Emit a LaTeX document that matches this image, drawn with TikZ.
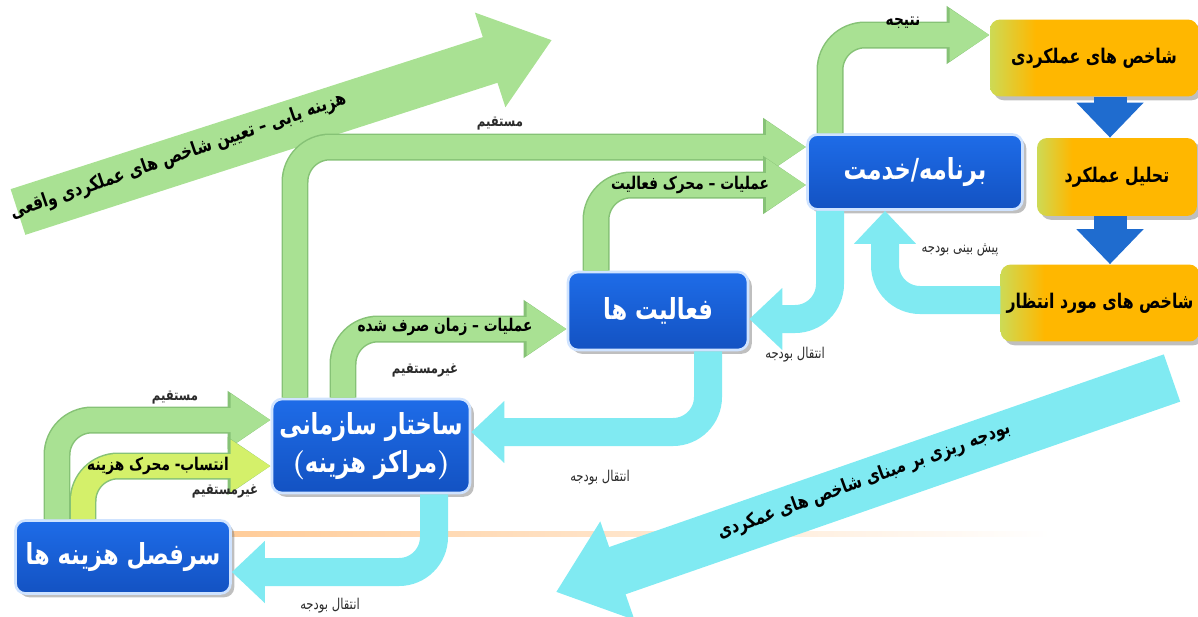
\documentclass[tikz,border=0pt]{standalone}
\usepackage{fontspec}
\usetikzlibrary{arrows.meta,calc,shadows}
\TeXXeTstate=1
\newfontfamily\fafont[Script=Arabic,FakeStretch=0.78]{DejaVu Sans}
\newcommand{\fa}[1]{\beginR #1\endR}

\definecolor{boxblue}{HTML}{1E6CE8}
\definecolor{boxbluedark}{HTML}{1352C2}
\definecolor{boxedge}{HTML}{CFE3FF}
\definecolor{boxgold}{HTML}{FFB700}
\definecolor{boxlime}{HTML}{CDDA55}
\definecolor{bandgreen}{HTML}{A9E193}
\definecolor{bandgreenedge}{HTML}{86C276}
\definecolor{bandlime}{HTML}{D4F06A}
\definecolor{bandcyan}{HTML}{80EAF2}
\definecolor{downblue}{HTML}{1F6CCF}
\definecolor{labelgray}{HTML}{2B2B2B}
\pgfdeclarehorizontalshading{goldshade}{100bp}{color(0bp)=(boxlime); color(25bp)=(boxlime); color(36bp)=(boxgold); color(100bp)=(boxgold)}

\begin{document}
\begin{tikzpicture}[x=0.02cm,y=-0.02cm]

\tikzset{bluebox/.style = {rounded corners=0.2cm, draw=boxedge, line width=1.5pt,
    top color=boxblue, bottom color=boxbluedark, drop shadow,
    text=white, font=\fafont\bfseries\fontsize{16.5}{22}\selectfont, align=center}}
\tikzset{goldbox/.style = {rounded corners=0.2cm, shading=goldshade, drop shadow, text=black,
    font=\fafont\bfseries\fontsize{11.5}{14}\selectfont}}
\tikzset{gband/.style = {draw=bandgreen, line width=0.48cm, rounded corners=0.7cm,
    -{Triangle[width=1.0cm,length=0.8cm]},
    preaction={draw=bandgreenedge, line width=0.54cm, -{Triangle[width=1.1cm,length=0.86cm]}}}}
\tikzset{cband/.style = {draw=bandcyan, line width=0.56cm, rounded corners=0.7cm,
    -{Triangle[width=1.2cm,length=0.66cm]}}}
\tikzset{downarrow/.style = {draw=downblue, line width=0.66cm, -{Triangle[width=1.3cm,length=0.7cm]}}}
\tikzset{bandtxt/.style = {font=\fafont\bfseries\fontsize{10}{12}\selectfont, text=black}}
\tikzset{bigtxt/.style = {font=\fafont\bfseries\fontsize{11}{13}\selectfont, text=black}}
\tikzset{lbl/.style = {font=\fafont\bfseries\fontsize{8.5}{10}\selectfont, text=labelgray}}
\tikzset{lbltwo/.style = {font=\fafont\fontsize{8.5}{10}\selectfont, text=labelgray}}

\useasboundingbox (0,0) rectangle (1198,616);

% big arrows
\coordinate (gt) at (18,212);
\coordinate (gh) at (552,40);
\coordinate (ct) at (1172,378);
\coordinate (ch) at (556,592);
\shade[left color=orange!40, middle color=orange!35, right color=white] (232,531) rectangle (1050,536);
\draw[draw=bandgreen, line width=0.96cm, -{Triangle[width=1.9cm,length=1.3cm]}] (gt) -- (gh);
\draw[draw=bandcyan, line width=1.0cm, -{Triangle[width=2.0cm,length=1.3cm]}] (ct) -- (ch);
\node[bigtxt, rotate=19] (gtext) at ($(gt)!0.30!(gh)+(0,-4)$) {\fa{هزینه یابی – تعیین شاخص های عملکردی واقعی}};
\node[bigtxt, rotate=20] (ctext) at ($(ct)!0.5!(ch)+(0,-4)$) {\fa{بودجه ریزی بر مبنای شاخص های عمکردی}};

% boxes
\node[bluebox, minimum width=4.3cm, minimum height=1.5cm] (prog) at (915,172) {\fa{برنامه/خدمت}};
\node[bluebox, minimum width=3.6cm, minimum height=1.56cm] (act) at (658,311) {\fa{فعالیت ها}};
\node[bluebox, minimum width=3.96cm, minimum height=1.88cm] (org) at (371,446) {\fa{ساختار سازمانی}\\{\normalfont\bfseries(}\fa{مراکز هزینه}{\normalfont\bfseries)}};
\node[bluebox, minimum width=4.3cm, minimum height=1.46cm] (cost) at (123,557) {\fa{سرفصل هزینه ها}};
\node[goldbox, minimum width=4.16cm, minimum height=1.54cm] (kpi) at (1094,58) {\fa{شاخص های عملکردی}};
\node[goldbox, minimum width=3.2cm, minimum height=1.56cm] (anal) at (1117,177) {\fa{تحلیل عملکرد}};
\node[goldbox, minimum width=3.9cm, minimum height=1.54cm] (expt) at (1100,303) {\fa{شاخص های مورد انتظار}};

% connectors
\draw[gband] ($(org.north)+(-76,0)$) |- ($(prog.west)+(0,-25)$);
\draw[gband] ($(org.north)+(-28,0)$) |- ($(act.west)+(0,18)$);
\draw[gband] ($(act.north)+(-62,0)$) |- ($(prog.west)+(0,13)$);
\draw[gband] ($(prog.north)+(-85,0)$) |- ($(kpi.west)+(0,-23)$);
\draw[gband] ($(cost.north)+(-66,0)$) |- ($(org.west)+(0,-26)$);
\draw[gband, draw=bandlime] ($(cost.north)+(-40,0)$) |- ($(org.west)+(0,20)$);

\draw[cband] ($(prog.south)+(-85,0)$) |- ($(act.east)+(0,8)$);
\draw[cband] ($(expt.west)+(0,-3)$) -| ($(prog.south)+(-30,0)$);
\draw[cband] ($(act.south)+(50,0)$) |- ($(org.east)+(0,-14)$);
\draw[cband] ($(org.south)+(63,0)$) |- ($(cost.east)+(0,15)$);

\draw[downarrow] ($(kpi.south)+(16,0)$) -- ($(anal.north)+(-7,0)$);
\draw[downarrow] ($(anal.south)+(-7,0)$) -- ($(expt.north)+(10,0)$);

% labels
\node[bandtxt] (tsp) at (445,327) {\fa{عملیات – زمان صرف شده}};
\node[bandtxt] (tdrv) at (690,185) {\fa{عملیات – محرک فعالیت}};
\node[bandtxt] (tres) at (903,23) {\fa{نتیجه}};
\node[bandtxt] (tatt) at (158,466) {\fa{انتساب- محرک هزینه}};
\node[lbl] (ldirect) at (500,124) {\fa{مستقیم}};
\node[lbl] (ldirecttwo) at (175,398) {\fa{مستقیم}};
\node[lbl] (lindirect) at (425,370) {\fa{غیرمستقیم}};
\node[lbl] (lindirecttwo) at (225,491) {\fa{غیرمستقیم}};
\node[lbltwo] (ltransfer) at (795,355) {\fa{انتقال بودجه}};
\node[lbltwo] (ltransfertwo) at (600,478) {\fa{انتقال بودجه}};
\node[lbltwo] (ltransferthree) at (330,606) {\fa{انتقال بودجه}};
\node[lbltwo] (lforecast) at (960,250) {\fa{پیش بینی بودجه}};
\end{tikzpicture}
\end{document}
